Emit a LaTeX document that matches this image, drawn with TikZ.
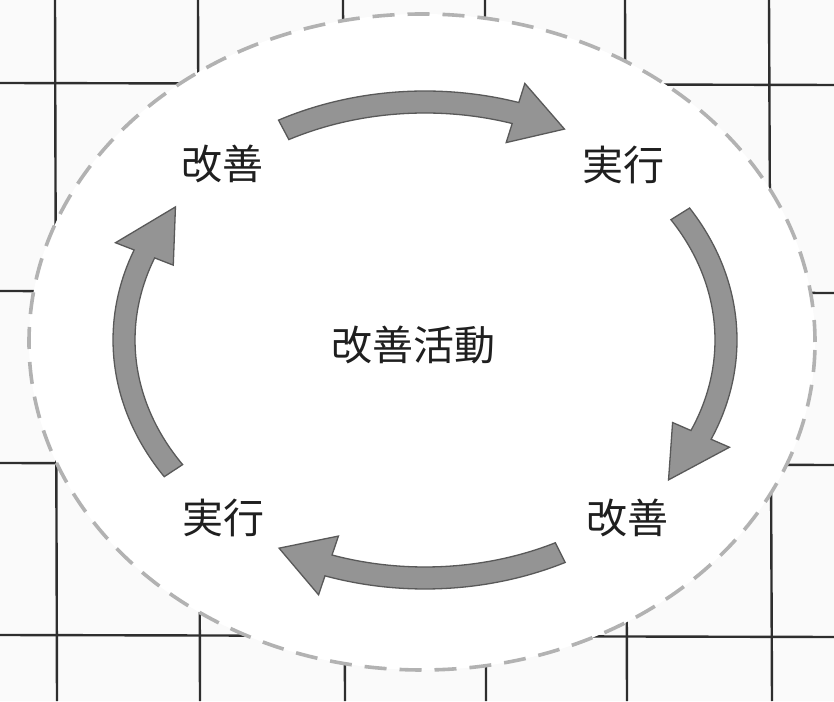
\documentclass[tikz,border=0pt]{standalone}
\usepackage{fontspec}
\newfontfamily\jp{Noto Sans CJK JP}
\usetikzlibrary{calc}
\tikzset{
  gridline/.style={draw=black!82, line width=2.4},
  ringline/.style={draw=black!30, line width=3.6, dash pattern=on 22 off 13},
  arrowbody/.style={fill=black!42, draw=black!65, line width=1.3, line join=miter},
  label/.style={inner sep=0pt, font=\jp\fontsize{41}{41}\selectfont, text=black!88}
}
\newcommand{\kzarrow}[3]{%
  \filldraw[arrowbody] ($(ctr)+(#1:312 and 249)$)
    arc[start angle=#1, end angle=#2, x radius=312, y radius=249]
    -- ($(ctr)+(#2:332 and 269)$)
    -- ($(ctr)+(#3:301 and 238)$)
    -- ($(ctr)+(#2:270 and 207)$)
    -- ($(ctr)+(#2:290 and 227)$)
    arc[start angle=#2, end angle=#1, x radius=290, y radius=227]
    -- cycle;}
\begin{document}
\begin{tikzpicture}[x=1pt,y=1pt]
\useasboundingbox (0,0) rectangle (834,701);
\fill[black!2] (0,0) rectangle (834,701);
% background grid
\draw[gridline] (55,701) -- (57,0);
\draw[gridline] (198,701) -- (200,0);
\draw[gridline] (343,701) -- (345,0);
\draw[gridline] (485,701) -- (486,0);
\draw[gridline] (625,701) -- (627,0);
\draw[gridline] (769,701) -- (772,0);
\draw[gridline] (0,618) -- (834,616);
\draw[gridline] (0,410) -- (834,408);
\draw[gridline] (0,238) -- (834,236);
\draw[gridline] (0,66) -- (834,64);
% ring
\coordinate (ell) at (422,359);
\fill[white] (ell) ellipse [x radius=393, y radius=328];
\draw[ringline] (ell) ellipse [x radius=393, y radius=328];
% cycle arrows
\coordinate (ctr) at (425,361);
\kzarrow{118}{72.5}{62.4}
\kzarrow{32}{-23.5}{-36}
\kzarrow{-63.3}{-108.7}{-119}
\kzarrow{213.3}{158.8}{146}
% labels
\node[label] (kz1) at (222,537) {改善};
\node[label] (jk1) at (623,536) {実行};
\node[label] (mid) at (413,356) {改善活動};
\node[label] (jk2) at (223,183) {実行};
\node[label] (kz2) at (627,183) {改善};
\end{tikzpicture}
\end{document}
